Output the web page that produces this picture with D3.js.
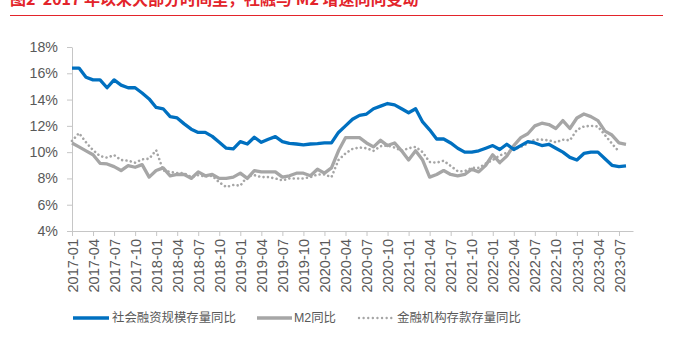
<!DOCTYPE html>
<html><head><meta charset="utf-8">
<script src="https://cdn.jsdelivr.net/npm/d3@7"></script>
<style>body{margin:0;background:#fff;} svg{display:block;}</style>
</head><body><svg id="c" width="673" height="350"></svg>
<script>
const titleText = "图2  2017 年以来大部分时间里，社融与 M2 增速同向变动";
const seriesNames = ["社会融资规模存量同比", "M2同比", "金融机构存款存量同比"];
const startYear = 2017, monthCount = 81;
const months = [];
for (let k = 0; k < monthCount; k++) {
  const yy = startYear + Math.floor(k / 12), mm = (k % 12) + 1;
  months.push(yy + "-" + (mm < 10 ? "0" + mm : mm));
}
const tickLabels = ["2017-01","2017-04","2017-07","2017-10","2018-01","2018-04","2018-07","2018-10",
  "2019-01","2019-04","2019-07","2019-10","2020-01","2020-04","2020-07","2020-10",
  "2021-01","2021-04","2021-07","2021-10","2022-01","2022-04","2022-07","2022-10",
  "2023-01","2023-04","2023-07"];
const yTicks = [4, 6, 8, 10, 12, 14, 16, 18];

// 社会融资规模存量同比 (2017-01 .. 2023-08)
const tsf = [16.4,16.4,15.7,15.5,15.5,14.9,15.5,15.1,14.9,14.9,14.5,14.05,
  13.4,13.3,12.7,12.6,12.15,11.75,11.5,11.5,11.2,10.75,10.3,10.25,
  10.8,10.62,11.13,10.75,10.98,11.18,10.8,10.67,10.62,10.55,10.62,10.65,
  10.7,10.7,11.5,12.0,12.5,12.8,12.9,13.3,13.5,13.7,13.6,13.3,
  13.0,13.3,12.3,11.7,11.0,11.0,10.7,10.3,10.0,10.0,10.1,10.3,
  10.5,10.2,10.6,10.2,10.5,10.8,10.7,10.5,10.6,10.3,10.0,9.6,
  9.4,9.9,10.0,10.0,9.5,9.0,8.9,8.95];
// M2同比 (2017-01 .. 2023-08)
const m2 = [10.7,10.4,10.1,9.8,9.15,9.1,8.9,8.6,8.97,8.85,9.05,8.1,
  8.6,8.8,8.2,8.3,8.3,8.0,8.5,8.2,8.3,8.0,8.0,8.1,
  8.4,8.0,8.6,8.5,8.5,8.5,8.1,8.2,8.4,8.4,8.2,8.7,
  8.4,8.8,10.1,11.1,11.1,11.1,10.7,10.4,10.9,10.5,10.7,10.1,
  9.4,10.1,9.4,8.1,8.3,8.6,8.3,8.2,8.3,8.7,8.5,9.0,
  9.8,9.2,9.7,10.5,11.1,11.4,12.0,12.2,12.1,11.8,12.4,11.8,
  12.6,12.9,12.7,12.4,11.6,11.3,10.7,10.6];
// 金融机构存款存量同比 (2017-01 .. 2023-07)
const deposit = [10.85,11.45,10.75,10.15,9.7,9.58,9.78,9.4,9.35,9.2,9.45,9.5,
  10.15,8.6,8.5,8.4,8.4,8.1,8.25,8.15,8.2,7.7,7.35,7.5,
  7.45,8.15,8.25,8.1,8.1,8.0,7.85,8.0,8.0,8.0,8.1,8.3,
  8.3,8.1,9.4,9.9,10.25,10.35,10.3,10.1,10.45,10.5,10.35,10.1,
  10.3,10.4,10.0,9.25,9.2,9.35,8.95,8.55,8.55,8.8,8.8,9.13,
  9.4,9.75,9.95,10.2,10.4,10.65,10.95,10.95,10.9,10.75,10.95,10.9,
  11.7,11.95,12.0,11.95,11.3,10.65,10.05];

const svg = d3.select("#c");
const latin = "'Liberation Sans', Arial, 'Noto Sans CJK SC', sans-serif";
const txtColor = "#595959";
const axisColor = "#c6c6c6";

// title (partially cut at top, as in the source) and red rule
svg.append("text").attr("x", 10).attr("y", 5)
  .attr("font-family", "'Noto Sans CJK SC', 'Liberation Sans', sans-serif")
  .attr("font-size", 16).attr("font-weight", "bold").attr("fill", "#e3242b")
  .style("white-space", "pre")
  .text(titleText);
svg.append("line").attr("x1", 10).attr("x2", 663).attr("y1", 15.5).attr("y2", 15.5)
  .attr("stroke", "#e3242b").attr("stroke-width", 1);

const x = d3.scalePoint().domain(months).range([72, 633]);
const y = d3.scaleLinear().domain([4, 18]).range([231, 47]);

// y axis
const gy = svg.append("g").attr("transform", "translate(72,0)")
  .call(d3.axisLeft(y).tickValues(yTicks).tickFormat(d => d + "%").tickSize(5).tickSizeOuter(0).tickPadding(9));
gy.select(".domain").attr("stroke", axisColor);
gy.selectAll(".tick line").attr("stroke", axisColor);
gy.selectAll("text").attr("font-family", latin).attr("font-size", 14.2).attr("fill", txtColor);

// x axis
const gx = svg.append("g").attr("transform", "translate(0,231)")
  .call(d3.axisBottom(x).tickValues(tickLabels).tickSize(5).tickSizeOuter(0));
gx.select(".domain").attr("stroke", axisColor);
gx.selectAll(".tick line").attr("stroke", axisColor);
gx.selectAll("text").attr("font-family", latin).attr("font-size", 14.6).attr("fill", txtColor)
  .attr("transform", "rotate(-90)").attr("text-anchor", "end")
  .attr("x", -8).attr("y", 0).attr("dy", "0.35em");

const line = d3.line().x((d, i) => x(months[i])).y(d => y(d));

svg.append("path").datum(deposit).attr("d", line).attr("fill", "none")
  .attr("stroke", "#a6a6a6").attr("stroke-width", 2.6).attr("stroke-linecap", "round")
  .attr("stroke-dasharray", "0.01,4.4");
svg.append("path").datum(m2).attr("d", line).attr("fill", "none")
  .attr("stroke", "#a6a6a6").attr("stroke-width", 3.3).attr("stroke-linejoin", "round");
svg.append("path").datum(tsf).attr("d", line).attr("fill", "none")
  .attr("stroke", "#0070c0").attr("stroke-width", 3.3).attr("stroke-linejoin", "round");

// legend
const legY = 318;
const legend = [
  {name: seriesNames[0], x0: 73, x1: 109, tx: 112, color: "#0070c0", dash: null, w: 3.3},
  {name: seriesNames[1], x0: 257, x1: 292, tx: 294, color: "#a6a6a6", dash: null, w: 3.3},
  {name: seriesNames[2], x0: 359, x1: 393, tx: 397, color: "#a6a6a6", dash: "0.01,4.6", w: 2.4}
];
legend.forEach(l => {
  const ln = svg.append("line").attr("x1", l.x0).attr("x2", l.x1).attr("y1", legY).attr("y2", legY)
    .attr("stroke", l.color).attr("stroke-width", l.w);
  if (l.dash) ln.attr("stroke-dasharray", l.dash).attr("stroke-linecap", "round");
  svg.append("text").attr("x", l.tx).attr("y", legY).attr("dy", "0.36em")
    .attr("font-family", latin).attr("font-size", 12.4).attr("fill", txtColor).text(l.name);
});
</script></body></html>
